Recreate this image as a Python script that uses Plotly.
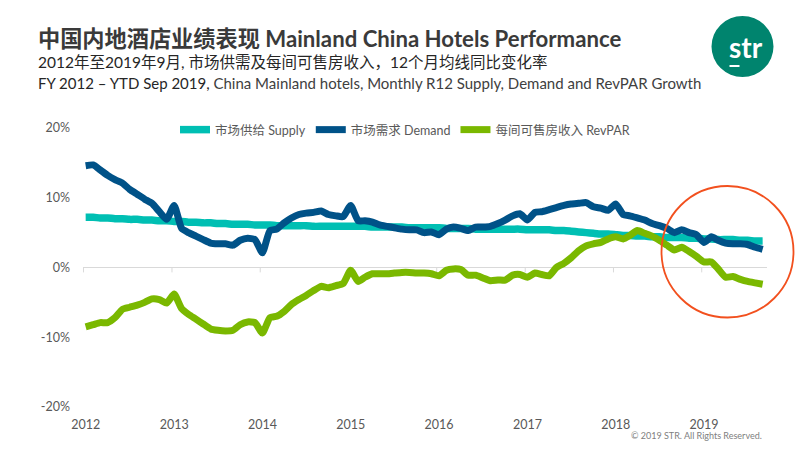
import pandas as pd
import plotly.graph_objects as go

# ---------------- data ----------------
months = pd.date_range("2012-01-01", periods=93, freq="MS")

supply = [
    7.2, 7.2, 7.1, 7.1, 7.0, 7.0, 6.9, 6.9, 6.8, 6.8, 6.7, 6.7,
    6.6, 6.6, 6.5, 6.5, 6.4, 6.4, 6.3, 6.3, 6.2, 6.2, 6.2, 6.1,
    6.1, 6.1, 6.0, 6.0, 6.0, 6.0, 6.0, 5.9, 5.9, 5.9, 5.9, 5.9,
    5.9, 5.9, 5.9, 5.8, 5.8, 5.8, 5.8, 5.8, 5.7, 5.7, 5.7, 5.7,
    5.7, 5.6, 5.6, 5.6, 5.6, 5.5, 5.5, 5.5, 5.5, 5.5, 5.5, 5.5,
    5.4, 5.4, 5.4, 5.4, 5.3, 5.3, 5.2, 5.1, 5.0, 4.9, 4.8, 4.8,
    4.7, 4.6, 4.6, 4.5, 4.5, 4.4, 4.4, 4.3, 4.3, 4.3, 4.2, 4.2,
    4.1, 4.1, 4.0, 4.0, 4.0, 3.9, 3.9, 3.8, 3.8,
]

demand = [
    14.6, 14.7, 14.0, 13.2, 12.6, 12.1, 11.2, 10.5, 9.8, 9.2, 8.0, 6.9,
    8.9, 5.6, 5.0, 4.5, 4.0, 3.5, 3.4, 3.4, 3.2, 3.9, 4.2, 4.0,
    2.1, 5.3, 5.5, 6.4, 7.1, 7.6, 7.8, 7.9, 8.1, 7.6, 7.4, 7.3,
    8.9, 6.7, 6.7, 6.5, 6.1, 5.9, 5.7, 5.5, 5.4, 5.4, 5.0, 5.1,
    4.7, 5.5, 5.8, 5.6, 5.3, 5.8, 5.8, 5.9, 6.3, 6.8, 7.4, 7.7,
    6.8, 7.9, 8.0, 8.3, 8.6, 8.9, 9.1, 9.2, 9.3, 8.7, 8.5, 8.2,
    9.1, 7.6, 7.4, 7.1, 6.8, 6.3, 6.0, 5.6, 5.0, 5.4, 5.0, 4.7,
    3.6, 4.4, 3.9, 3.5, 3.4, 3.4, 3.3, 2.9, 2.6,
]

revpar = [
    -8.5, -8.2, -7.9, -7.9, -7.2, -6.0, -5.7, -5.4, -5.0, -4.5, -4.6, -5.1,
    -3.8, -5.9, -6.7, -7.4, -8.1, -8.8, -9.0, -9.1, -9.0, -8.2, -7.8, -7.9,
    -9.4, -7.2, -7.0, -6.3, -5.3, -4.6, -4.0, -3.3, -2.7, -2.9, -2.6, -2.3,
    -0.4, -2.0, -1.4, -0.9, -0.9, -0.9, -0.8, -0.7, -0.7, -0.8, -0.8, -0.9,
    -1.2, -0.4, -0.2, -0.3, -1.1, -1.1, -1.5, -1.9, -1.8, -1.8, -1.1, -1.0,
    -1.4, -0.8, -1.0, -1.2, 0.0, 0.6, 1.4, 2.4, 3.1, 3.4, 3.6, 4.1,
    4.4, 4.1, 4.6, 5.3, 4.9, 4.5, 3.9, 3.2, 2.5, 2.9, 2.3, 1.6,
    0.8, 0.8, -0.2, -1.4, -1.3, -1.7, -2.0, -2.2, -2.4,
]

series_names = ["市场供给 Supply", "市场需求 Demand", "每间可售房收入 RevPAR"]
series_colors = ["#00BFB3", "#005288", "#7AB800"]

year_labels = ["2012", "2013", "2014", "2015", "2016", "2017", "2018", "2019"]
y_tick_vals = [20, 10, 0, -10, -20]
y_tick_text = ["20%", "10%", "0%", "-10%", "-20%"]

# ---------------- figure ----------------
FONT = "Lato, 'Noto Sans CJK SC', sans-serif"
W, H = 800, 450
L, R, T, B = 83, 33, 128, 43

fig = go.Figure()
for name, vals, col, w in zip(series_names, [supply, demand, revpar], series_colors, [7.5, 7, 7]):
    fig.add_trace(go.Scatter(
        x=months, y=vals, name=name, mode="lines",
        line=dict(color=col, width=w, shape="spline", smoothing=0.5),
    ))

year_ticks = [pd.Timestamp(y + "-01-01") for y in year_labels]

# small tick marks on the zero axis line
shapes = []
for t in year_ticks:
    shapes.append(dict(type="line", xref="x", yref="y", x0=t - pd.Timedelta(days=9), x1=t - pd.Timedelta(days=9),
                       y0=0, y1=-0.7, line=dict(color="#D9D9D9", width=1), layer="below"))


def px2paper_x(px):
    return (px - L) / (W - L - R)


def px2paper_y(py):
    return 1 - (py - T) / (H - T - B)


# highlight circle
shapes.append(dict(type="circle", xref="paper", yref="paper",
                   x0=px2paper_x(661.5), x1=px2paper_x(793.5),
                   y0=px2paper_y(317.5), y1=px2paper_y(186),
                   line=dict(color="#F2501E", width=1.8)))

# STR logo circle + underscore
shapes.append(dict(type="circle", xref="paper", yref="paper",
                   x0=px2paper_x(711.5), x1=px2paper_x(773.5),
                   y0=px2paper_y(77), y1=px2paper_y(16),
                   line=dict(width=0), fillcolor="#00846E"))
shapes.append(dict(type="line", xref="paper", yref="paper",
                   x0=px2paper_x(729.5), x1=px2paper_x(739.5),
                   y0=px2paper_y(66), y1=px2paper_y(66),
                   line=dict(color="white", width=2)))

annotations = [
    dict(text="<b>中国内地酒店业绩表现 Mainland China Hotels Performance</b>",
         xref="paper", yref="paper", x=px2paper_x(36), y=px2paper_y(38),
         xanchor="left", yanchor="middle", showarrow=False,
         font=dict(family=FONT, size=22.2, color="#3A3A3A")),
    dict(text="2012年至2019年9月, 市场供需及每间可售房收入，12个月均线同比变化率",
         xref="paper", yref="paper", x=px2paper_x(36), y=px2paper_y(62),
         xanchor="left", yanchor="middle", showarrow=False,
         font=dict(family=FONT, size=15.5, color="#262626")),
    dict(text="FY 2012 – YTD Sep 2019, <span style='color:#404040'>China Mainland hotels, Monthly R12 Supply, Demand and RevPAR Growth</span>",
         xref="paper", yref="paper", x=px2paper_x(36), y=px2paper_y(83),
         xanchor="left", yanchor="middle", showarrow=False,
         font=dict(family=FONT, size=15, color="#262626")),
    dict(text="<b>str</b>",
         xref="paper", yref="paper", x=px2paper_x(746), y=px2paper_y(47),
         xanchor="center", yanchor="middle", showarrow=False,
         font=dict(family=FONT, size=28, color="white")),
    dict(text="© 2019 STR. All Rights Reserved.",
         xref="paper", yref="paper", x=px2paper_x(764), y=px2paper_y(435),
         xanchor="right", yanchor="middle", showarrow=False,
         font=dict(family=FONT, size=9, color="#808080")),
]

fig.update_layout(
    width=W, height=H,
    margin=dict(l=L, r=R, t=T, b=B, pad=0),
    plot_bgcolor="white", paper_bgcolor="white",
    font=dict(family=FONT, size=12, color="#595959"),
    showlegend=True,
    legend=dict(orientation="h", x=0.5 - 20 / (W - L - R), xanchor="center", y=px2paper_y(130), yanchor="middle",
                font=dict(family=FONT, size=12.5, color="#595959"),
                bgcolor="rgba(0,0,0,0)", itemwidth=30, tracegroupgap=0),
    shapes=shapes,
    annotations=annotations,
)

fig.update_xaxes(
    type="date",
    range=[pd.Timestamp("2011-12-21"), pd.Timestamp("2019-09-19")],
    tickvals=year_ticks, ticktext=year_labels,
    showgrid=False, showline=False, zeroline=False, ticks="",
    tickfont=dict(family=FONT, size=12.5, color="#595959"),
    ticklabelstandoff=8,
)
fig.update_yaxes(
    range=[-20, 20],
    tickvals=y_tick_vals, ticktext=y_tick_text,
    showgrid=False, showline=False,
    zeroline=True, zerolinecolor="#D9D9D9", zerolinewidth=1.2,
    ticks="", tickfont=dict(family=FONT, size=12.5, color="#595959"),
    ticklabelstandoff=12,
)

fig.write_html("out.html", config={"displayModeBar": False},
               post_script="document.body.style.margin='0px';")
